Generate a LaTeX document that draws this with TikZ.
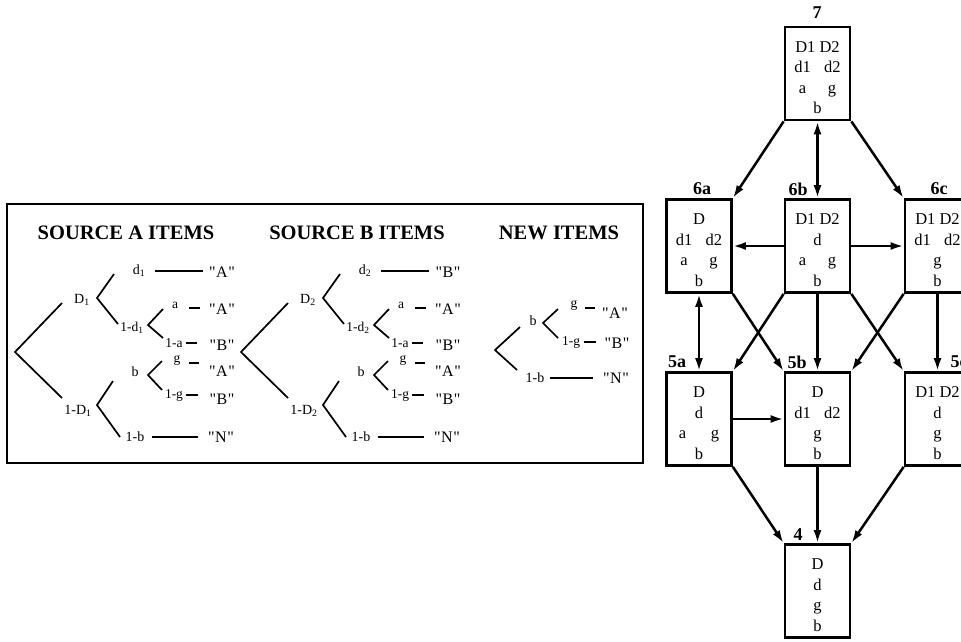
\documentclass[tikz,border=0pt]{standalone}
\usepackage{fontspec}
\setmainfont{Liberation Serif}
\newfontfamily\qfont[Ligatures=TeXOff]{Liberation Serif}
\usetikzlibrary{arrows.meta}
\tikzset{
  gbox/.style={draw, line width=2.7pt, minimum width=65pt, minimum height=93pt, inner sep=0pt},
  btxt/.style={align=center, inner sep=0pt, font=\fontsize{16.5}{20.5}\selectfont},
  glbl/.style={inner sep=0pt, font=\fontsize{18}{18}\selectfont\bfseries},
  arr/.style={line width=2.5pt, -{Latex[length=13pt,width=8pt]}},
  darr/.style={line width=2.5pt, {Latex[length=13pt,width=8pt]}-{Latex[length=13pt,width=8pt]}},
  tree/.style={line width=1.7pt},
  tl/.style={inner sep=0pt, font=\fontsize{14}{14}\selectfont},
  sl/.style={inner sep=0pt, font=\fontsize{13.5}{14}\selectfont},
  leaf/.style={inner sep=0pt, font=\fontsize{16}{16}\qfont},
  head/.style={inner sep=0pt, font=\fontsize{20.5}{20.5}\selectfont\bfseries},
}
\newcommand\qt[1]{"\kern0.5pt#1\kern0.5pt"}
\newcommand\srctree[4]{%
\begin{scope}[xshift=#2]
 \coordinate (#1r) at (15,352);
 \coordinate (#1u) at (62,303);
 \coordinate (#1l) at (62,398);
 \draw[tree] (#1u) -- (#1r) -- (#1l);
 \node[tl] (#1D) at (82,300) {D\textsubscript{#3}};
 \node[tl] (#1nD) at (78,411) {1-D\textsubscript{#3}};
 \coordinate (#1Dv) at (97,298);
 \coordinate (#1Du) at (114,274);
 \coordinate (#1Dd) at (118,324);
 \draw[tree] (#1Du) -- (#1Dv) -- (#1Dd);
 \node[tl] (#1d) at (139,271) {d\textsubscript{#3}};
 \coordinate (#1ds) at (155,271);
 \coordinate (#1de) at (203,271);
 \draw[tree] (#1ds) -- (#1de);
 \node[leaf] (#1dA) at (222,272) {\qt{#4}};
 \node[sl] (#1nd) at (132,328) {1-d\textsubscript{#3}};
 \coordinate (#1sv) at (148,325);
 \coordinate (#1su) at (163,309);
 \coordinate (#1sd) at (163,338);
 \draw[tree] (#1su) -- (#1sv) -- (#1sd);
 \node[sl] (#1a) at (175,305) {a};
 \coordinate (#1as) at (189,308);
 \coordinate (#1ae) at (200,308);
 \draw[tree] (#1as) -- (#1ae);
 \node[leaf] (#1aA) at (222,309) {\qt{A}};
 \node[sl] (#1na) at (174,343) {1-a};
 \coordinate (#1nas) at (186,343);
 \coordinate (#1nae) at (197,343);
 \draw[tree] (#1nas) -- (#1nae);
 \node[leaf] (#1naB) at (222,345) {\qt{B}};
 \coordinate (#1Bv) at (97,405);
 \coordinate (#1Bu) at (113,381);
 \coordinate (#1Bd) at (120,437);
 \draw[tree] (#1Bu) -- (#1Bv) -- (#1Bd);
 \node[tl] (#1b) at (135,372) {b};
 \coordinate (#1bv) at (148,375);
 \coordinate (#1bu) at (162,361);
 \coordinate (#1bd) at (162,390);
 \draw[tree] (#1bu) -- (#1bv) -- (#1bd);
 \node[sl] (#1g) at (177,360) {g};
 \coordinate (#1gs) at (189,363);
 \coordinate (#1ge) at (199,363);
 \draw[tree] (#1gs) -- (#1ge);
 \node[leaf] (#1gA) at (222,371) {\qt{A}};
 \node[sl] (#1ng) at (174,395) {1-g};
 \coordinate (#1ngs) at (186,395);
 \coordinate (#1nge) at (198,395);
 \draw[tree] (#1ngs) -- (#1nge);
 \node[leaf] (#1ngB) at (222,399) {\qt{B}};
 \node[tl] (#1nb) at (135,437) {1-b};
 \coordinate (#1nbs) at (152,437);
 \coordinate (#1nbe) at (198,437);
 \draw[tree] (#1nbs) -- (#1nbe);
 \node[leaf] (#1nbN) at (221,437) {\qt{N}};
\end{scope}}
\begin{document}
\begin{tikzpicture}[x=1pt,y=-1pt]
\useasboundingbox (0,0) rectangle (961,641);
\clip (0,0) rectangle (961,641);
% left panel
\draw[line width=2pt] (7,204) rectangle (643,463);
\node[head] (hA) at (126,233) {SOURCE A ITEMS};
\node[head] (hB) at (357,233) {SOURCE B ITEMS};
\node[head] (hN) at (559,233) {NEW ITEMS};
\srctree{A}{0pt}{1}{A}
\srctree{B}{226pt}{2}{B}
% new items tree
\coordinate (Nr) at (495,350);
\coordinate (Nu) at (520,327);
\coordinate (Nl) at (517,370);
\draw[tree] (Nu) -- (Nr) -- (Nl);
\node[tl] (Nb) at (533,321) {b};
\coordinate (Nbv) at (543,323);
\coordinate (Nbu) at (558,309);
\coordinate (Nbd) at (558,338);
\draw[tree] (Nbu) -- (Nbv) -- (Nbd);
\node[sl] (Ng) at (574,305) {g};
\coordinate (Ngs) at (585,308);
\coordinate (Nge) at (595,308);
\draw[tree] (Ngs) -- (Nge);
\node[leaf] (NgA) at (615,313) {\qt{A}};
\node[sl] (Nng) at (571,342) {1-g};
\coordinate (Nngs) at (584,342);
\coordinate (Nnge) at (596,342);
\draw[tree] (Nngs) -- (Nnge);
\node[leaf] (NngB) at (617,343) {\qt{B}};
\node[tl] (Nnb) at (535,378) {1-b};
\coordinate (Nnbs) at (550,378);
\coordinate (Nnbe) at (593,378);
\draw[tree] (Nnbs) -- (Nnbe);
\node[leaf] (NnbN) at (616,378) {\qt{N}};
% graph boxes
\node[gbox] (n7) at (817.5,73.5) {};
\node[gbox] (n6a) at (699,246) {};
\node[gbox] (n6b) at (817.5,246) {};
\node[gbox] (n6c) at (937.5,246) {};
\node[gbox] (n5a) at (699,419) {};
\node[gbox] (n5b) at (817.5,419) {};
\node[gbox] (n5c) at (937.5,419) {};
\node[gbox] (n4) at (817.5,591) {};
% box texts
\node[btxt] (t7) at (817.5,77.5) {D1 D2\\d1\hspace{0.8em}d2\\a\hspace{1.3em}g\\b};
\node[btxt] (t6a) at (699,250) {D\\d1\hspace{0.8em}d2\\a\hspace{1.3em}g\\b};
\node[btxt] (t6b) at (817.5,250) {D1 D2\\d\\a\hspace{1.3em}g\\b};
\node[btxt] (t6c) at (937.5,250) {D1 D2\\d1\hspace{0.8em}d2\\g\\b};
\node[btxt] (t5a) at (699,423) {D\\d\\a\hspace{1.5em}g\\b};
\node[btxt] (t5b) at (817.5,423) {D\\d1\hspace{0.8em}d2\\g\\b};
\node[btxt] (t5c) at (937.5,423) {D1 D2\\d\\g\\b};
\node[btxt] (t4) at (817.5,595) {D\\d\\g\\b};
% graph labels
\node[glbl] (l7) at (817,13) {7};
\node[glbl] (l6a) at (702,189) {6a};
\node[glbl] (l6b) at (798,189) {6b};
\node[glbl] (l6c) at (939,189) {6c};
\node[glbl] (l5a) at (677,362) {5a};
\node[glbl] (l5b) at (797,362) {5b};
\node[glbl] (l5c) at (959,362) {5c};
\node[glbl] (l4) at (798,535) {4};
% edges
\draw[arr] (n7.south west) -- (n6a.north east);
\draw[darr] (n7.south) -- (n6b.north);
\draw[arr] (n7.south east) -- (n6c.north west);
\draw[arr] (n6b.west) -- (n6a.east);
\draw[arr] (n6b.east) -- (n6c.west);
\draw[darr] (n6a.south) -- (n5a.north);
\draw[arr] (n6a.south east) -- (n5b.north west);
\draw[arr] (n6b.south west) -- (n5a.north east);
\draw[arr] (n6b.south) -- (n5b.north);
\draw[arr] (n6b.south east) -- (n5c.north west);
\draw[arr] (n6c.south west) -- (n5b.north east);
\draw[arr] (n6c.south) -- (n5c.north);
\draw[arr] (n5a.east) -- (n5b.west);
\draw[arr] (n5a.south east) -- (n4.north west);
\draw[arr] (n5b.south) -- (n4.north);
\draw[arr] (n5c.south west) -- (n4.north east);
\end{tikzpicture}
\end{document}
